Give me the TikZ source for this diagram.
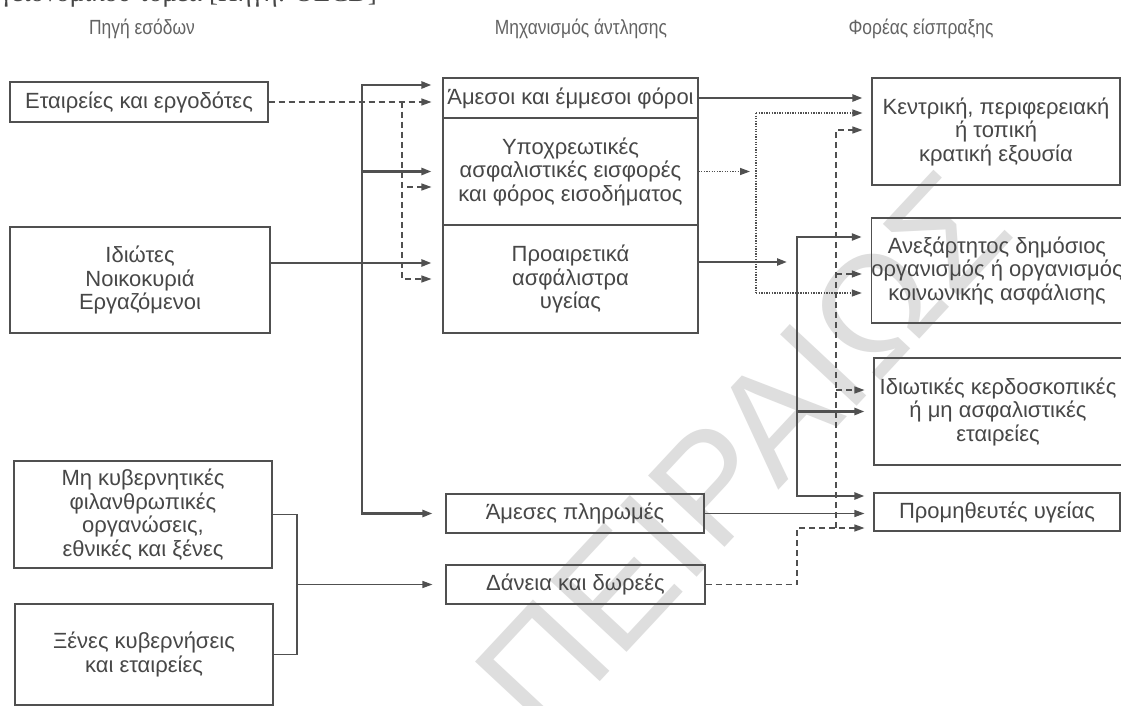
\documentclass[tikz,border=0pt]{standalone}
\usepackage{fontspec}
\setmainfont{Liberation Sans}
\newfontfamily\headfont[FakeStretch=0.85]{Liberation Sans}
\newfontfamily\notefont{Liberation Serif}
\usetikzlibrary{arrows.meta}
\definecolor{ink}{HTML}{474747}
\definecolor{wire}{HTML}{505050}
\definecolor{mark}{HTML}{DEDEDE}

\begin{document}
\begin{tikzpicture}[x=1pt,y=-1pt,
  box/.style={draw=wire, line width=1.1pt, text=ink, align=center, inner sep=0pt,
    font=\fontsize{22}{23.5}\selectfont},
  head/.style={text=ink!85, font=\headfont\fontsize{20.5}{22}\selectfont, inner sep=0pt},
  tip/.style={-{Triangle[length=10pt,width=7pt]}},
  heavy/.style={draw=wire, line width=2.3pt},
  light/.style={draw=wire, line width=1.2pt},
  dsh/.style={draw=wire, line width=1.3pt, dash pattern=on 6pt off 4pt},
  dots/.style={draw=wire, line width=1.3pt, dash pattern=on 1.3pt off 1.3pt},
]
\useasboundingbox (0,0) rectangle (1121,706);
\fill[white] (0,0) rectangle (1121,706);
\clip (0,0) rectangle (1121,706);

% background stamp
\node[text=mark, font=\fontsize{152}{152}\selectfont, rotate=47, inner sep=0pt] (wm) at (742,452) {ΠΕΙΡΑΙΩΣ};

% caption line running off the top edge
\node[font=\notefont\fontsize{27}{30}\selectfont, text=ink, anchor=base east, inner sep=0pt] (cap) at (377,2) {υγειονομικού τομέα [Πηγή: OECD]};

% column headings
\node[head] (h1) at (142,29) {Πηγή εσόδων};
\node[head] (h2) at (581,29) {Μηχανισμός άντλησης};
\node[head] (h3) at (921,29) {Φορέας είσπραξης};

% sources
\node[box, minimum width=258pt, minimum height=40pt] (b1) at (139,102) {Εταιρείες και εργοδότες};
\node[box, minimum width=260pt, minimum height=106pt] (b2) at (140,280) {Ιδιώτες\\Νοικοκυριά\\Εργαζόμενοι};
\node[box, minimum width=258pt, minimum height=107pt] (b3) at (143,514.5) {Μη κυβερνητικές\\φιλανθρωπικές\\οργανώσεις,\\εθνικές και ξένες};
\node[box, minimum width=258pt, minimum height=101pt] (b4) at (144,654.5) {Ξένες κυβερνήσεις\\και εταιρείες};

% collection mechanisms
\node[box, minimum width=255pt, minimum height=40pt] (m1) at (570.5,98) {Άμεσοι και έμμεσοι φόροι};
\node[box, minimum width=255pt, minimum height=107pt] (m2) at (570.5,171.5) {Υποχρεωτικές\\ασφαλιστικές εισφορές\\και φόρος εισοδήματος};
\node[box, minimum width=255pt, minimum height=108pt] (m3) at (570.5,279) {Προαιρετικά\\ασφάλιστρα\\υγείας};
\node[box, minimum width=258pt, minimum height=39pt] (ap) at (575,513.5) {Άμεσες πληρωμές};
\node[box, minimum width=259pt, minimum height=39pt] (dd) at (575.5,584.5) {Δάνεια και δωρεές};

% collecting bodies
\node[box, minimum width=248pt, minimum height=107pt] (r1) at (996,131.5) {Κεντρική, περιφερειακή\\ή τοπική\\κρατική εξουσία};
\node[box, minimum width=250pt, minimum height=105pt] (r2) at (997,270.5) {Ανεξάρτητος δημόσιος\\οργανισμός ή οργανισμός\\κοινωνικής ασφάλισης};
\node[box, minimum width=248pt, minimum height=107pt] (r3) at (998,411.5) {Ιδιωτικές κερδοσκοπικές\\ή μη ασφαλιστικές\\εταιρείες};
\node[box, minimum width=246pt, minimum height=38pt] (r4) at (997,512) {Προμηθευτές υγείας};

% junction points
\coordinate (jL) at (362,263);
\coordinate (jD) at (402,102);
\coordinate (qa) at (756,113);
\coordinate (qb) at (756,293);
\coordinate (s1) at (797,237);
\coordinate (s3) at (797,496);
\coordinate (x1) at (797,528);
\coordinate (v0) at (836,528);
\coordinate (vt) at (836,130);
\coordinate (v2) at (836,274);
\coordinate (v3) at (836,390);
\coordinate (k) at (297,584.5);
\coordinate (m3o) at ([yshift=17pt]m3.east);

% households and employees
\draw[heavy,tip,shorten >=11pt] (b2.east |- jL) -- (m3.west |- jL);
\draw[heavy,tip,shorten >=11pt] (jL) |- ([yshift=13pt]m1.west);
\draw[heavy,tip,shorten >=11pt] (jL) |- (m2.west);
\draw[heavy,tip,shorten >=13pt] (jL) |- (ap.west);

% companies and employers
\draw[dsh,tip,shorten >=11pt] (b1.east) -- (m1.west |- b1.east);
\draw[dsh,tip,shorten >=11pt] (jD) |- ([yshift=-15.5pt]m2.west);
\draw[dsh,tip,shorten >=11pt] (jD) |- (m3.west);

% donors
\draw[light] (b3.east) -| (k);
\draw[light] (b4.east) -| (k);
\draw[light,tip,shorten >=13pt] (k) -- (dd.west);

% taxes
\draw[heavy,tip,shorten >=9pt] (m1.east) -- (r1.west |- m1.east);

% contributions
\draw[dots,tip,shorten >=6pt] (m2.east) -- (qa |- m2.east);
\draw[dots] (qa) -- (qb);
\draw[dots,tip,shorten >=9pt] (qa) -- (r1.west |- qa);
\draw[dots,tip,shorten >=9pt] (qb) -- (r2.west |- qb);

% voluntary premiums
\draw[heavy,tip,shorten >=10pt] (m3o) -- (s1 |- m3o);
\draw[heavy,tip,shorten >=9pt] (s3) -- (s1) -- (r2.west |- s1);
\draw[heavy,tip,shorten >=9pt] (s1) -- (s3) -- (r4.west |- s3);
\draw[heavy,tip,shorten >=9pt] (s1 |- r3.west) -- (r3.west);

% direct payments
\draw[light,tip,shorten >=9pt] (ap.east) -- (r4.west |- ap.east);

% loans and grants
\draw[dsh,tip,shorten >=9pt] (dd.east) -| (x1) -- (r4.west |- x1);
\draw[dsh,tip,shorten >=9pt] (v0) -- (vt) -- (r1.west |- vt);
\draw[dsh,tip,shorten >=9pt] (v2) -- (r2.west |- v2);
\draw[dsh,tip,shorten >=9pt] (v3) -- (r3.west |- v3);
\end{tikzpicture}
\end{document}
